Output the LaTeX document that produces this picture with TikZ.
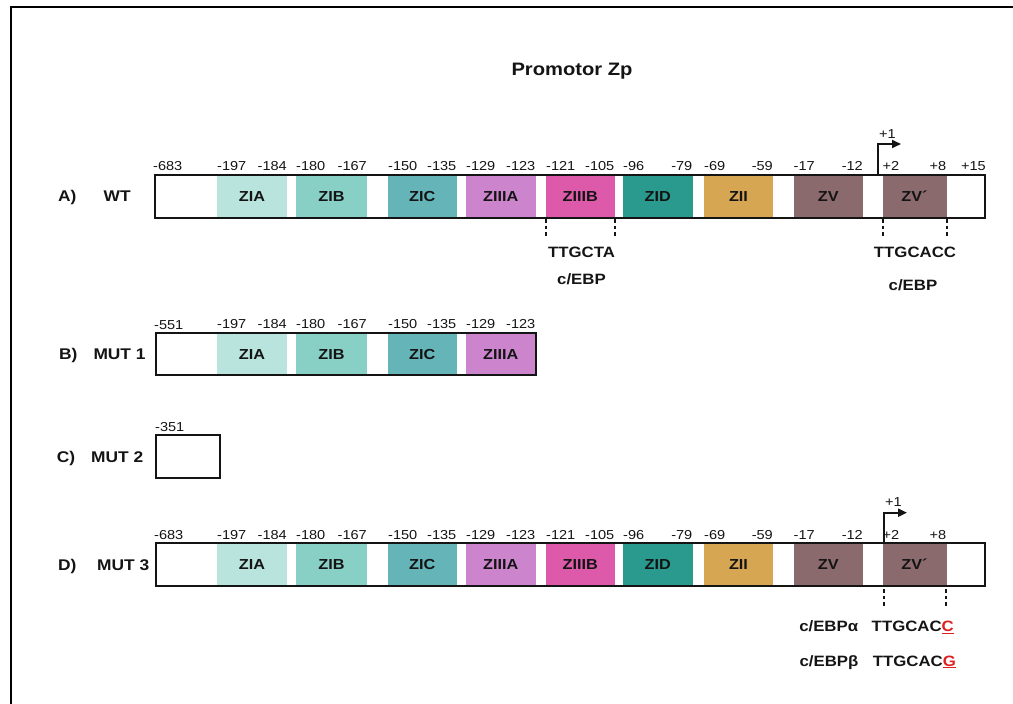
\documentclass[tikz,border=0pt]{standalone}
\usepackage{fontspec}
\setmainfont[FakeStretch=1.12]{Liberation Sans}
\usetikzlibrary{arrows.meta}

\definecolor{cZIA}{HTML}{B9E4DE}
\definecolor{cZIB}{HTML}{88CFC6}
\definecolor{cZIC}{HTML}{64B4B8}
\definecolor{cZIIIA}{HTML}{CC84CC}
\definecolor{cZIIIB}{HTML}{DD5AAA}
\definecolor{cZID}{HTML}{2A9A8E}
\definecolor{cZII}{HTML}{D7A652}
\definecolor{cZV}{HTML}{8B6A6E}
\definecolor{ink}{HTML}{141414}
\definecolor{mutred}{HTML}{E02020}

% red, underlined base of a point mutation
\newcommand\mutbase[1]{\textcolor{mutred}{\setbox0\hbox{#1}\rlap{\rule[-2.4pt]{\wd0}{1.6pt}}\box0}}

% binding-site segments, first and second half of the promoter
\def\segsA{217/287/cZIA/ZIA/-197/-184,296/367/cZIB/ZIB/-180/-167,388/456.5/cZIC/ZIC/-150/-135,466/535.5/cZIIIA/ZIIIA/-129/-123}
\def\segsB{546/614.5/cZIIIB/ZIIIB/-121/-105,623/692.5/cZID/ZID/-96/-79,704/773/cZII/ZII/-69/-59,793.5/863/cZV/ZV/-17/-12,882.5/946.5/cZV/ZV´/+2/+8}

% #1 name prefix, #2 top, #3 bottom, #4 segment list
\newcommand\zprow[4]{%
  \foreach \l/\r/\c/\t/\a/\b [count=\i] in #4 {
    \fill[\c] (\l,#2) rectangle (\r,#3);
    \node[seglabel] (#1-\i) at ({(\l+\r)/2},{(#2+#3)/2+5.4}) {\t};
    \node[num,anchor=base west] (#1-\i-from) at (\l,#2-3.6) {\a};
    \node[num,anchor=base east] (#1-\i-to) at (\r,#2-3.6) {\b};
  }%
}

\begin{document}
\begin{tikzpicture}[x=1pt,y=-1pt,
  num/.style={inner sep=0pt,text=ink,font=\fontsize{13}{15}\selectfont},
  seglabel/.style={inner sep=0pt,anchor=base,text=ink,font=\bfseries\fontsize{14.5}{17}\selectfont},
  rowlabel/.style={inner sep=0pt,anchor=base west,text=ink,font=\bfseries\fontsize{15.5}{18}\selectfont},
  site/.style={inner sep=0pt,anchor=base,text=ink,font=\bfseries\fontsize{15}{18}\selectfont},
  boxline/.style={draw=ink,line width=2pt},
  guide/.style={draw=ink,line width=2pt,dash pattern=on 3.5pt off 3pt},
  tss/.style={draw=ink,line width=2pt,-{Triangle[length=9pt,width=8pt]}}]
\useasboundingbox (0,0) rectangle (1013,704);

% frame
\draw[line width=2.2pt] (11,704) -- (11,7) -- (1013,7);

\node[inner sep=0pt,anchor=base,text=ink,font=\bfseries\fontsize{18}{21}\selectfont] (title) at (572,75) {Promotor Zp};

% A) wild type
\node[rowlabel] (labA) at (58,201.5) {A)};
\node[rowlabel] (nameA) at (103.5,201.5) {WT};
\zprow{wtA}{174.5}{217.5}{\segsA}
\zprow{wtB}{174.5}{217.5}{\segsB}
\draw[boxline] (155,174.5) rectangle (984.5,217.5);
\node[num,anchor=base west] (wt-start) at (153,170.9) {-683};
\node[num,anchor=base east] (wt-end) at (986,170.9) {+15};
\coordinate (wt-tss) at (877.7,174.5);
\coordinate (wt-tss-end) at (901,144);
\draw[tss] (wt-tss) |- (wt-tss-end);
\node[num,anchor=base west] (wt-plus1) at (879,138.3) {+1};
\draw[guide] (546,219) -- (546,236);
\draw[guide] (614.5,219) -- (614.5,236);
\draw[guide] (882.5,219) -- (882.5,236);
\draw[guide] (946.5,219) -- (946.5,236);
\node[site] (wt-seq1) at (581.5,257.5) {TTGCTA};
\node[site] (wt-tf1) at (581.5,284.7) {c/EBP};
\node[site] (wt-seq2) at (915,257.8) {TTGCACC};
\node[site] (wt-tf2) at (913,290.7) {c/EBP};

% B) MUT 1
\node[rowlabel] (labB) at (59,359.5) {B)};
\node[rowlabel] (nameB) at (93.3,359.5) {MUT 1};
\zprow{m1}{332.5}{375}{\segsA}
\draw[boxline] (155.5,332.5) rectangle (536,375);
\node[num,anchor=base west] (m1-start) at (154,329.2) {-551};

% C) MUT 2
\node[rowlabel] (labC) at (56.7,462) {C)};
\node[rowlabel] (nameC) at (91,462) {MUT 2};
\draw[boxline] (155.5,435) rectangle (220,478);
\node[num,anchor=base west] (m2-start) at (155,431.6) {-351};

% D) MUT 3
\node[rowlabel] (labD) at (58,570) {D)};
\node[rowlabel] (nameD) at (97,570) {MUT 3};
\zprow{m3A}{543}{586}{\segsA}
\zprow{m3B}{543}{586}{\segsB}
\draw[boxline] (155.5,543) rectangle (985,586);
\node[num,anchor=base west] (m3-start) at (154,539.2) {-683};
\coordinate (m3-tss) at (883.5,543);
\coordinate (m3-tss-end) at (907,512.7);
\draw[tss] (m3-tss) |- (m3-tss-end);
\node[num,anchor=base west] (m3-plus1) at (885,506) {+1};
\draw[guide] (884,589) -- (884,607);
\draw[guide] (946,589) -- (946,607);
\node[site] (m3-tfa) at (828.7,631.7) {c/EBPα};
\node[site] (m3-seqa) at (912.8,631.7) {TTGCAC\mutbase{C}};
\node[site] (m3-tfb) at (829,666) {c/EBPβ};
\node[site] (m3-seqb) at (914.3,666) {TTGCAC\mutbase{G}};
\end{tikzpicture}
\end{document}
